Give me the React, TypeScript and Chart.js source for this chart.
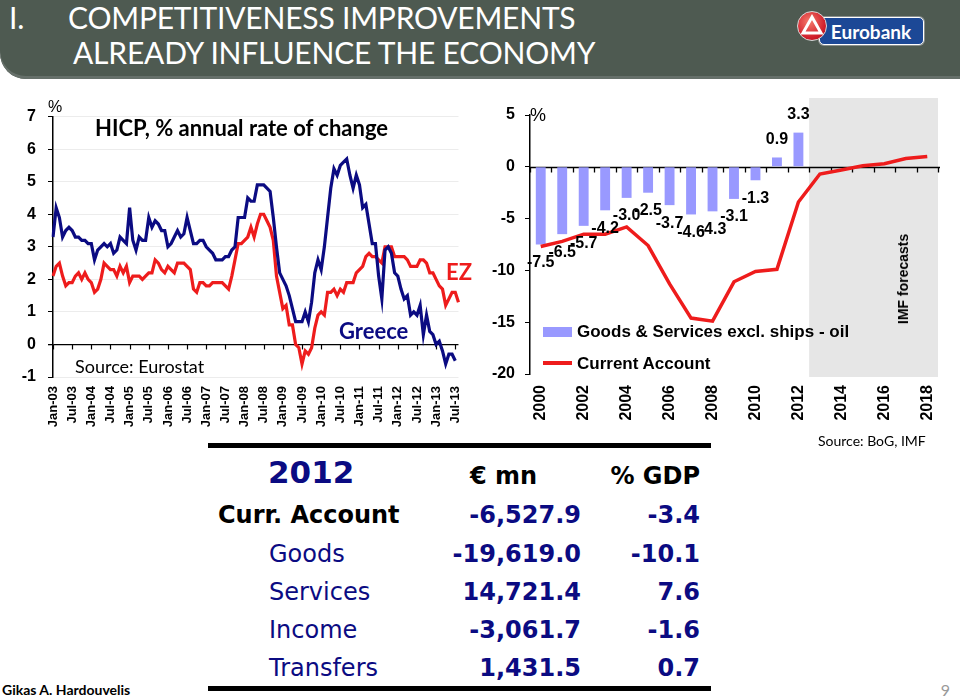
import React, { useEffect, useRef } from 'react';
import { Chart, registerables } from 'chart.js';

Chart.register(...registerables);

// ---------- Left chart data: HICP, % annual rate of change (monthly, Jan-03 .. Aug-13) ----------
const HICP_YEARS = ['03', '04', '05', '06', '07', '08', '09', '10', '11', '12', '13'];
const MONTH_NAMES = ['Jan', 'Feb', 'Mar', 'Apr', 'May', 'Jun', 'Jul', 'Aug', 'Sep', 'Oct', 'Nov', 'Dec'];
const HICP_LAST_MONTH_2013 = 8; // data run to Aug-13
const HICP_MONTHS: string[] = [];
HICP_YEARS.forEach((y) => {
  MONTH_NAMES.forEach((m, i) => {
    if (y === '13' && i >= HICP_LAST_MONTH_2013) return;
    HICP_MONTHS.push(`${m}-${y}`);
  });
});
const HICP_TICK_LABELS = [
  'Jan-03', 'Jul-03', 'Jan-04', 'Jul-04', 'Jan-05', 'Jul-05', 'Jan-06', 'Jul-06', 'Jan-07', 'Jul-07', 'Jan-08',
  'Jul-08', 'Jan-09', 'Jul-09', 'Jan-10', 'Jul-10', 'Jan-11', 'Jul-11', 'Jan-12', 'Jul-12', 'Jan-13', 'Jul-13',
];

const GREECE = [
  3.3, 4.2, 3.9, 3.3, 3.5, 3.6, 3.5, 3.3, 3.3, 3.2, 3.2, 3.1,
  3.1, 2.6, 2.9, 3.0, 3.1, 3.0, 3.1, 2.8, 2.9, 3.3, 3.2, 3.1,
  4.2, 3.2, 2.9, 3.3, 3.2, 3.2, 3.9, 3.6, 3.8, 3.7, 3.5, 3.5,
  3.0, 3.1, 3.3, 3.5, 3.3, 3.4, 3.9, 3.5, 3.1, 3.1, 3.2, 3.2,
  3.0, 2.9, 2.8, 2.6, 2.6, 2.6, 2.7, 2.7, 2.9, 3.0, 3.9, 3.9,
  3.9, 4.5, 4.4, 4.4, 4.9, 4.9, 4.9, 4.8, 4.7, 3.9, 3.0, 2.2,
  2.0, 1.8, 1.5, 1.1, 0.7, 0.7, 0.7, 1.0, 0.7, 1.3, 2.2, 2.6,
  2.3, 3.0, 3.9, 4.8, 5.4, 5.2, 5.5, 5.6, 5.7, 5.2, 4.8, 5.2,
  4.9, 4.2, 4.3, 3.7, 3.1, 3.1, 2.1, 1.4, 2.9, 3.0, 2.8, 2.2,
  2.1, 1.7, 1.4, 1.5, 0.9, 1.0, 0.9, 1.2, 0.3, 0.9, 0.4, 0.3,
  0.0, 0.1, -0.2, -0.6, -0.3, -0.3, -0.5, null,
];

const EZ = [
  2.1, 2.4, 2.5, 2.1, 1.8, 1.9, 1.9, 2.1, 2.2, 2.0, 2.2, 2.0,
  1.9, 1.6, 1.7, 2.0, 2.5, 2.4, 2.3, 2.3, 2.1, 2.4, 2.2, 2.4,
  1.9, 2.1, 2.1, 2.1, 2.0, 2.1, 2.2, 2.2, 2.6, 2.5, 2.3, 2.2,
  2.4, 2.3, 2.2, 2.5, 2.5, 2.5, 2.4, 2.3, 1.7, 1.6, 1.9, 1.9,
  1.8, 1.8, 1.9, 1.9, 1.9, 1.9, 1.8, 1.7, 2.1, 2.6, 3.1, 3.1,
  3.2, 3.3, 3.6, 3.3, 3.7, 4.0, 4.0, 3.8, 3.6, 3.2, 2.1, 1.6,
  1.1, 1.2, 0.6, 0.6, 0.0, -0.1, -0.6, -0.2, -0.3, -0.1, 0.5, 0.9,
  1.0, 0.9, 1.6, 1.6, 1.7, 1.5, 1.7, 1.6, 1.9, 1.9, 1.9, 2.2,
  2.3, 2.4, 2.7, 2.8, 2.7, 2.7, 2.6, 2.5, 3.0, 3.0, 3.0, 2.7,
  2.7, 2.7, 2.7, 2.6, 2.4, 2.4, 2.4, 2.6, 2.6, 2.5, 2.2, 2.2,
  2.0, 1.8, 1.7, 1.2, 1.4, 1.6, 1.6, 1.3,
];

const HICP_Y_MIN = -1;
const HICP_Y_MAX = 7;

// ---------- Right chart data: % of GDP, 2000..2018 ----------
const CA_YEARS = ['2000', '2001', '2002', '2003', '2004', '2005', '2006', '2007', '2008', '2009',
  '2010', '2011', '2012', '2013', '2014', '2015', '2016', '2017', '2018'];
const GOODS_SERVICES = [-7.5, -6.5, -5.7, -4.2, -3.0, -2.5, -3.7, -4.6, -4.3, -3.1, -1.3, 0.9, 3.3,
  null, null, null, null, null, null];
const CURRENT_ACCOUNT = [-7.7, -7.2, -6.5, -6.5, -5.8, -7.6, -11.3, -14.6, -14.9, -11.1, -10.1, -9.9, -3.4,
  -0.7, -0.3, 0.1, 0.3, 0.8, 1.0];
const FORECAST_FROM = '2013';
const CA_Y_MIN = -20;
const CA_Y_MAX = 5;

// ---------- Table ----------
const TABLE_YEAR = '2012';
const TABLE_ROWS = ['Curr. Account', 'Goods', 'Services', 'Income', 'Transfers'];
const TABLE_EUR_MN = ['-6,527.9', '-19,619.0', '14,721.4', '-3,061.7', '1,431.5'];
const TABLE_PCT_GDP = ['-3.4', '-10.1', '7.6', '-1.6', '0.7'];

// ---------- styling ----------
const NAVY = '#0b0b82';
const RED = '#ee1c1c';
const BAR_BLUE = '#9999ff';
const ARIAL = '"Liberation Sans", Arial, sans-serif';
const CALIBRI = 'Lato, "Open Sans", sans-serif';
const VERDANA = '"DejaVu Sans", Verdana, sans-serif';

function HicpChart() {
  const ref = useRef<HTMLCanvasElement | null>(null);
  useEffect(() => {
    if (!ref.current) return;
    const zeroTicks = {
      id: 'zeroTicks',
      beforeDatasetsDraw(chart: any) {
        const { ctx } = chart;
        const xs = chart.scales.x;
        const ys = chart.scales.y;
        const y0 = ys.getPixelForValue(0);
        ctx.save();
        ctx.strokeStyle = '#000';
        ctx.lineWidth = 1.2;
        xs.ticks.forEach((_t: any, i: number) => {
          const x = Math.round(xs.getPixelForTick(i)) + 0.5;
          ctx.beginPath();
          ctx.moveTo(x, y0);
          ctx.lineTo(x, y0 + 5);
          ctx.stroke();
        });
        ctx.restore();
      },
    };
    const chart = new Chart(ref.current, {
      type: 'line',
      data: {
        labels: HICP_MONTHS,
        datasets: [
          {
            label: 'Greece', data: GREECE, borderColor: NAVY, borderWidth: 3.2, pointRadius: 0,
            tension: 0, order: 1, spanGaps: false,
          },
          {
            label: 'EZ', data: EZ, borderColor: RED, borderWidth: 3.2, pointRadius: 0,
            tension: 0, order: 2,
          },
        ],
      },
      options: {
        responsive: false,
        animation: false,
        events: [],
        layout: { padding: { top: 20, right: 17, left: 0, bottom: 0 } },
        plugins: { legend: { display: false }, tooltip: { enabled: false } },
        scales: {
          x: {
            type: 'category',
            offset: false,
            grid: { display: false, drawTicks: false },
            border: { display: false },
            ticks: {
              autoSkip: false, maxRotation: 90, minRotation: 90, padding: 9,
              color: '#000', font: { family: ARIAL, size: 13, weight: 'bold' },
              callback: (_v: any, i: number, ticks: any[]) => HICP_MONTHS[ticks[i].value],
            },
            afterBuildTicks: (axis: any) => {
              axis.ticks = axis.ticks.filter((t: any) => HICP_TICK_LABELS.includes(HICP_MONTHS[t.value]));
            },
            afterFit: (s: any) => { s.height = 63; },
          },
          y: {
            min: HICP_Y_MIN, max: HICP_Y_MAX,
            ticks: { stepSize: 1, padding: 12, color: '#000', font: { family: ARIAL, size: 16, weight: 'bold' } },
            grid: {
              color: (c: any) => (c.tick && c.tick.value === 0 ? '#000' : '#ececec'),
              lineWidth: (c: any) => (c.tick && c.tick.value === 0 ? 1.3 : 1),
              tickLength: 5, tickColor: '#000', drawTicks: true,
            },
            border: { display: true, color: '#000', width: 1.5 },
            afterFit: (s: any) => { s.width = 53; },
          },
        },
      } as any,
      plugins: [zeroTicks],
    });
    return () => chart.destroy();
  }, []);
  return <canvas ref={ref} width={480} height={345} style={{ position: 'absolute', left: 0, top: 95, width: 480, height: 345 }} />;
}

function CaChart() {
  const ref = useRef<HTMLCanvasElement | null>(null);
  useEffect(() => {
    if (!ref.current) return;
    const decor = {
      id: 'decor',
      beforeDatasetsDraw(chart: any) {
        const { ctx, chartArea } = chart;
        const xs = chart.scales.x;
        const ys = chart.scales.y;
        const step = xs.getPixelForValue(1) - xs.getPixelForValue(0);
        const fx = xs.getPixelForValue(CA_YEARS.indexOf(FORECAST_FROM)) - step / 2;
        ctx.save();
        ctx.fillStyle = '#e6e6e6';
        ctx.fillRect(fx, chartArea.top - 17, chartArea.right - fx, chartArea.bottom - chartArea.top + 20);
        const y0 = Math.round(ys.getPixelForValue(0)) + 0.5;
        ctx.strokeStyle = '#000';
        ctx.lineWidth = 1.3;
        ctx.beginPath();
        ctx.moveTo(chartArea.left, y0);
        ctx.lineTo(chartArea.right + 2, y0);
        ctx.stroke();
        for (let i = 0; i <= CA_YEARS.length; i++) {
          const x = Math.round(xs.getPixelForValue(0) - step / 2 + i * step) + 0.5;
          ctx.beginPath();
          ctx.moveTo(x, y0);
          ctx.lineTo(x, y0 + 5);
          ctx.stroke();
        }
        ctx.restore();
      },
      afterDatasetsDraw(chart: any) {
        const { ctx } = chart;
        const meta = chart.getDatasetMeta(0);
        ctx.save();
        ctx.fillStyle = '#000';
        ctx.font = `bold 16px ${ARIAL}`;
        ctx.textAlign = 'center';
        ctx.textBaseline = 'middle';
        meta.data.forEach((el: any, i: number) => {
          const v = GOODS_SERVICES[i];
          if (v === null || v === undefined) return;
          const y = v < 0 ? el.y + 18 : el.y - 18;
          ctx.fillText(v.toFixed(1), el.x, y);
        });
        ctx.restore();
      },
    };
    const chart = new Chart(ref.current, {
      type: 'bar',
      data: {
        labels: CA_YEARS,
        datasets: [
          {
            type: 'bar', label: 'Goods & Services excl. ships - oil', data: GOODS_SERVICES,
            backgroundColor: BAR_BLUE, borderWidth: 0, barPercentage: 0.46, categoryPercentage: 1, order: 2,
          },
          {
            type: 'line', label: 'Current Account', data: CURRENT_ACCOUNT, borderColor: RED,
            borderWidth: 3.5, pointRadius: 0, tension: 0, order: 1,
          },
        ],
      },
      options: {
        responsive: false,
        animation: false,
        events: [],
        layout: { padding: { top: 20, right: 22, left: 0, bottom: 0 } },
        plugins: { legend: { display: false }, tooltip: { enabled: false } },
        scales: {
          x: {
            type: 'category',
            offset: true,
            grid: { display: false, drawTicks: false },
            border: { display: false },
            ticks: {
              autoSkip: false, maxRotation: 90, minRotation: 90, padding: 11,
              color: '#000', font: { family: ARIAL, size: 16, weight: 'bold' },
              callback: (_v: any, i: number, ticks: any[]) => CA_YEARS[ticks[i].value],
            },
            afterBuildTicks: (axis: any) => {
              axis.ticks = axis.ticks.filter((t: any) => t.value % 2 === 0);
            },
            afterFit: (s: any) => { s.height = 66; },
          },
          y: {
            min: CA_Y_MIN, max: CA_Y_MAX,
            ticks: { stepSize: 5, padding: 10, color: '#000', font: { family: ARIAL, size: 16, weight: 'bold' } },
            grid: { drawOnChartArea: false, drawTicks: true, tickLength: 5, color: '#000', tickColor: '#000' },
            border: { display: true, color: '#000', width: 1.5 },
            afterFit: (s: any) => { s.width = 50; },
          },
        },
      } as any,
      plugins: [decor],
    });
    return () => chart.destroy();
  }, []);
  return <canvas ref={ref} width={480} height={345} style={{ position: 'absolute', left: 480, top: 95, width: 480, height: 345 }} />;
}

type TP = { x: number; y: number; children: React.ReactNode; style?: React.CSSProperties; align?: 'left' | 'right' | 'center' };
function T({ x, y, children, style, align = 'left' }: TP) {
  const base: React.CSSProperties = {
    position: 'absolute', top: y, whiteSpace: 'nowrap', lineHeight: 1, transform: 'translateY(-50%)',
  };
  if (align === 'left') base.left = x;
  else if (align === 'right') base.right = 960 - x;
  else { base.left = x; base.transform = 'translate(-50%,-50%)'; }
  return <div style={{ ...base, ...style }}>{children}</div>;
}

export default function App() {
  const titleStyle: React.CSSProperties = { color: '#fff', fontFamily: CALIBRI, fontSize: 30, fontWeight: 400, letterSpacing: -0.2 };
  const tableNum: React.CSSProperties = { fontFamily: VERDANA, fontSize: 24, fontWeight: 'bold', color: NAVY };
  const rowY = [515, 554, 592, 630, 668];
  return (
    <div style={{ position: 'absolute', left: 0, top: 0, width: 960, height: 699, overflow: 'hidden', background: '#fff', fontFamily: ARIAL }}>
      {/* header */}
      <div style={{ position: 'absolute', left: 0, top: 0, width: 960, height: 79, background: '#4e5a51', borderBottomLeftRadius: 26, boxShadow: 'inset 0 -3px 0 #66706a' }} />
      <T x={9} y={17} style={titleStyle}>I.</T>
      <T x={68} y={17} style={titleStyle}>COMPETITIVENESS IMPROVEMENTS</T>
      <T x={73} y={52} style={titleStyle}>ALREADY INFLUENCE THE ECONOMY</T>
      {/* logo */}
      <div style={{ position: 'absolute', left: 819, top: 17, width: 103, height: 26, background: '#1c4896', border: '1.5px solid #fff', borderRadius: 5, boxShadow: '0 0 0 1px #8a8f8c' }} />
      <T x={871} y={31} align="center" style={{ color: '#fff', fontFamily: CALIBRI, fontSize: 19, fontWeight: 'bold' }}>Eurobank</T>
      <div style={{ position: 'absolute', left: 797, top: 11, width: 28, height: 28, borderRadius: '50%', background: 'radial-gradient(circle at 40% 35%, #f47a6c, #d01d2a 65%, #a5101b)', border: '1.5px solid #d8d8d8' }}>
        <svg width="28" height="28" style={{ position: 'absolute', left: 0, top: 0 }}>
          <polygon points="14,5 23,21 5,21" fill="none" stroke="#fff" strokeWidth="3" />
        </svg>
      </div>

      {/* charts */}
      <HicpChart />
      <CaChart />

      {/* left chart annotations */}
      <T x={48} y={107} style={{ fontFamily: ARIAL, fontSize: 16, color: '#000' }}>%</T>
      <T x={95} y={128} style={{ fontFamily: CALIBRI, fontSize: 22, fontWeight: 'bold', color: '#000' }}>HICP, % annual rate of change</T>
      <T x={339} y={331} style={{ fontFamily: CALIBRI, fontSize: 22, fontWeight: 'bold', color: NAVY }}>Greece</T>
      <T x={446} y={272} style={{ fontFamily: CALIBRI, fontSize: 22, fontWeight: 'bold', color: RED }}>EZ</T>
      <T x={75} y={366} style={{ fontFamily: CALIBRI, fontSize: 18, color: '#000' }}>Source: Eurostat</T>

      {/* right chart annotations */}
      <T x={530} y={115} style={{ fontFamily: ARIAL, fontSize: 18, color: '#000' }}>%</T>
      <div style={{ position: 'absolute', left: 543, top: 327, width: 29, height: 10, background: BAR_BLUE }} />
      <T x={577} y={331} style={{ fontFamily: ARIAL, fontSize: 17, fontWeight: 'bold', color: '#000' }}>Goods &amp; Services excl. ships - oil</T>
      <div style={{ position: 'absolute', left: 543, top: 361, width: 29, height: 4, background: RED }} />
      <T x={577} y={363} style={{ fontFamily: ARIAL, fontSize: 17, fontWeight: 'bold', color: '#000' }}>Current Account</T>
      <div style={{ position: 'absolute', left: 903, top: 279, transform: 'translate(-50%,-50%) rotate(-90deg)', whiteSpace: 'nowrap', fontFamily: ARIAL, fontSize: 14, fontWeight: 'bold', lineHeight: 1 }}>IMF forecasts</div>
      <T x={818} y={441} style={{ fontFamily: CALIBRI, fontSize: 14, color: '#000' }}>Source: BoG, IMF</T>

      {/* table */}
      <div style={{ position: 'absolute', left: 208, top: 443, width: 503, height: 5, background: '#000' }} />
      <div style={{ position: 'absolute', left: 208, top: 686, width: 503, height: 5, background: '#000' }} />
      <T x={268} y={472} style={{ fontFamily: VERDANA, fontSize: 31, fontWeight: 'bold', color: NAVY }}>{TABLE_YEAR}</T>
      <T x={470} y={476} style={{ fontFamily: VERDANA, fontSize: 24, fontWeight: 'bold', color: '#000' }}>€ mn</T>
      <T x={700} y={476} align="right" style={{ fontFamily: VERDANA, fontSize: 24, fontWeight: 'bold', color: '#000' }}>% GDP</T>
      {TABLE_ROWS.map((r, i) => (
        <React.Fragment key={r}>
          <T x={i === 0 ? 218 : 269} y={rowY[i]} style={{ fontFamily: VERDANA, fontSize: 24, fontWeight: i === 0 ? 'bold' : 'normal', color: i === 0 ? '#000' : NAVY }}>{r}</T>
          <T x={581} y={rowY[i]} align="right" style={tableNum}>{TABLE_EUR_MN[i]}</T>
          <T x={700} y={rowY[i]} align="right" style={tableNum}>{TABLE_PCT_GDP[i]}</T>
        </React.Fragment>
      ))}

      {/* footer */}
      <T x={2} y={690} style={{ fontFamily: CALIBRI, fontSize: 14, fontWeight: 'bold', color: '#000' }}>Gikas A. Hardouvelis</T>
      <T x={950} y={690} align="right" style={{ fontFamily: CALIBRI, fontSize: 16, color: '#999' }}>9</T>
    </div>
  );
}
